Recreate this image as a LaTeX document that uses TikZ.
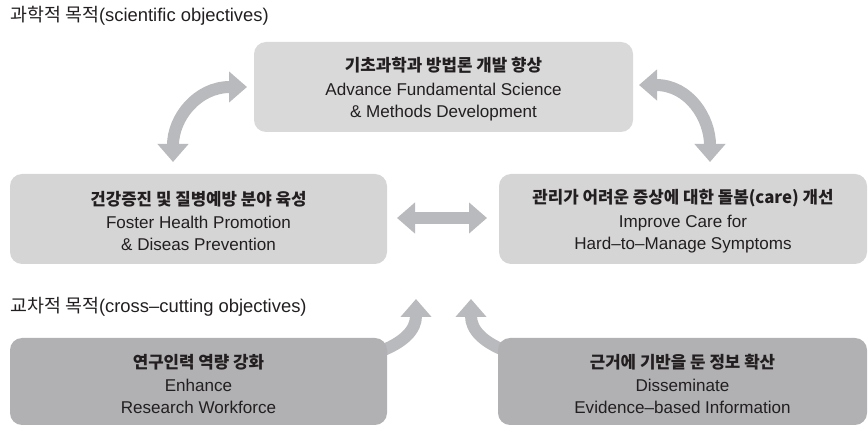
\documentclass[tikz,border=0pt]{standalone}
\usepackage{fontspec}
\setmainfont{Liberation Sans}
\newfontfamily\krfont{Noto Sans CJK KR}
\usetikzlibrary{arrows.meta}

\definecolor{inkgray}{RGB}{35,31,32}
\definecolor{fillsci}{RGB}{217,217,218}
\definecolor{fillmid}{RGB}{213,213,214}
\definecolor{fillcross}{RGB}{177,177,179}
\definecolor{flowgray}{RGB}{185,186,189}

% bold korean heading line above the english lines
\newcommand{\krhead}[1]{{\krfont\bfseries\fontsize{12.6}{16.5}\selectfont\rule{0pt}{14pt}#1}\\[1pt]}

\begin{document}
\begin{tikzpicture}[x=0.75pt,y=0.75pt,yscale=-1,xscale=1,
    goalbox/.style={rounded corners=9pt, inner sep=0pt, align=center,
      text=inkgray, font=\fontsize{12.8}{16.5}\selectfont},
    flowtip/.tip={Triangle[width=22.5pt,length=13.5pt]},
    flow/.style={draw=flowgray, line width=9pt},
    sectitle/.style={anchor=west, inner sep=0pt, text=inkgray,
      font=\fontsize{13.8}{16}\selectfont}]
    \useasboundingbox (0,0) rectangle (868,427);

    % end points of the block arrows
    \coordinate (scL) at (247,87);
    \coordinate (hpT) at (173,162);
    \coordinate (scR) at (639,85);
    \coordinate (icT) at (710,162);
    \coordinate (hpR) at (397,218);
    \coordinate (icL) at (487,218);
    \coordinate (wfS) at (376,353);
    \coordinate (wfE) at (416,299);
    \coordinate (ebS) at (511,353);
    \coordinate (ebE) at (471,299);

    % block arrows (behind the boxes)
    \draw [flow, flowtip-flowtip] (scL) .. controls (197,87) and (173,118) .. (hpT);
    \draw [flow, flowtip-flowtip] (scR) .. controls (689,85) and (710,118) .. (icT);
    \draw [flow, flowtip-flowtip] (hpR) -- (icL);
    \draw [flow, -flowtip] (wfS) .. controls (404,343) and (416,330) .. (wfE);
    \draw [flow, -flowtip] (ebS) .. controls (483,343) and (471,330) .. (ebE);

    % section titles
    \node [sectitle] (sciTitle) at (10,16) {{\krfont 과학적 목적}(scientific objectives)};
    \node [sectitle] (crossTitle) at (10,307) {{\krfont 교차적 목적}(cross–cutting objectives)};

    % scientific objectives
    \node [goalbox, fill=fillsci, minimum width=284.25pt, minimum height=67.5pt] (sci) at (443.5,87)
      {\krhead{기초과학과 방법론 개발 향상}Advance Fundamental Science\\\& Methods Development};
    \node [goalbox, fill=fillmid, minimum width=282.75pt, minimum height=67.5pt] (hp) at (198.5,219)
      {\krhead{건강증진 및 질병예방 분야 육성}Foster Health Promotion\\\& Diseas Prevention};
    \node [goalbox, fill=fillmid, minimum width=276pt, minimum height=67.5pt] (ic) at (683,219)
      {\krhead{관리가 어려운 증상에 대한 돌봄(care) 개선}Improve Care for\\Hard–to–Manage Symptoms};

    % cross-cutting objectives
    \node [goalbox, fill=fillcross, minimum width=282.75pt, minimum height=65.25pt] (wf) at (198.5,381.5)
      {\krhead{연구인력 역량 강화}Enhance\\Research Workforce};
    \node [goalbox, fill=fillcross, minimum width=276.75pt, minimum height=65.25pt] (eb) at (682.5,381.5)
      {\krhead{근거에 기반을 둔 정보 확산}Disseminate\\Evidence–based Information};
\end{tikzpicture}
\end{document}
